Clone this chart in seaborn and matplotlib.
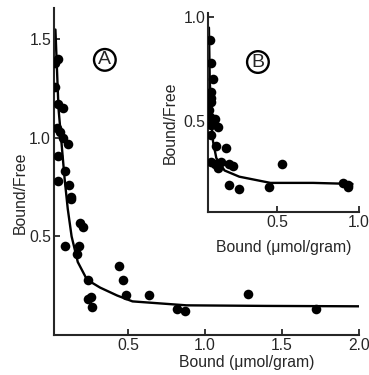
import numpy as np
import matplotlib
matplotlib.use("Agg")
import matplotlib.pyplot as plt
import seaborn as sns
import pandas as pd

# Panel A: scatchard data (Bound, Bound/Free)
a_bound = [0.03, 0.045, 0.03, 0.05, 0.08, 0.04, 0.06, 0.08, 0.11, 0.05, 0.09, 0.05,
           0.12, 0.13, 0.13, 0.19, 0.21, 0.09, 0.18, 0.17, 0.24, 0.24, 0.26, 0.27,
           0.44, 0.47, 0.49, 0.64, 0.82, 0.87, 1.28, 1.72]
a_ratio = [1.38, 1.40, 1.26, 1.17, 1.15, 1.05, 1.03, 1.00, 0.97, 0.91, 0.83, 0.78,
           0.76, 0.70, 0.69, 0.57, 0.55, 0.45, 0.45, 0.41, 0.28, 0.18, 0.19, 0.14,
           0.35, 0.28, 0.20, 0.20, 0.13, 0.12, 0.21, 0.13]
a_fit_x = [0.03, 0.05, 0.07, 0.09, 0.11, 0.135, 0.175, 0.235, 0.32, 0.43, 0.53, 0.88, 1.4, 2.0]
a_fit_y = [1.55, 1.15, 0.97, 0.79, 0.64, 0.50, 0.37, 0.28, 0.24, 0.20, 0.17, 0.15, 0.147, 0.145]

# Panel B (inset)
b_bound = [0.09, 0.10, 0.11, 0.10, 0.10, 0.10, 0.085, 0.09, 0.12, 0.10, 0.14, 0.10,
           0.13, 0.19, 0.10, 0.12, 0.14, 0.16, 0.21, 0.23, 0.21, 0.27, 0.45, 0.53,
           0.90, 0.93, 0.93]
b_ratio = [0.89, 0.78, 0.70, 0.64, 0.61, 0.59, 0.55, 0.52, 0.51, 0.48, 0.47, 0.43,
           0.38, 0.37, 0.30, 0.29, 0.27, 0.30, 0.29, 0.28, 0.19, 0.17, 0.18, 0.29,
           0.20, 0.19, 0.18]
b_fit_x = [0.085, 0.09, 0.10, 0.11, 0.13, 0.18, 0.27, 0.46, 0.72, 0.96]
b_fit_y = [0.95, 0.70, 0.50, 0.40, 0.32, 0.26, 0.23, 0.20, 0.20, 0.195]

sns.set_style("ticks")
plt.rcParams['font.family'] = ['Liberation Sans', 'DejaVu Sans']
plt.rcParams.update({
    'xtick.direction': 'in',
    'ytick.direction': 'in',
    'xtick.major.size': 4,
    'ytick.major.size': 4,
    'xtick.major.width': 1.3,
    'ytick.major.width': 1.3,
    'axes.linewidth': 1.5,
    'font.size': 11.3,
})
FS = 11.3

fig = plt.figure(figsize=(3.69, 3.75), dpi=100)
ax = fig.add_axes([0.146, 0.107, 0.827, 0.872])
axb = fig.add_axes([0.564, 0.435, 0.409, 0.530])

df_a = pd.DataFrame({'bound': a_bound, 'ratio': a_ratio})
df_af = pd.DataFrame({'bound': a_fit_x, 'ratio': a_fit_y})
df_b = pd.DataFrame({'bound': b_bound, 'ratio': b_ratio})
df_bf = pd.DataFrame({'bound': b_fit_x, 'ratio': b_fit_y})

for a, pts, fit in [(ax, df_a, df_af), (axb, df_b, df_bf)]:
    sns.scatterplot(data=pts, x='bound', y='ratio', ax=a, color='black', s=48,
                    edgecolor='black', linewidth=0, zorder=3)
    sns.lineplot(data=fit, x='bound', y='ratio', ax=a, color='black', lw=1.7,
                 sort=False, estimator=None)
    sns.despine(ax=a)
    a.set_xlabel('')
    a.set_ylabel('')
    a.patch.set_alpha(0)

ax.set_xlim(0.02, 2.0)
ax.set_ylim(0.0, 1.66)
ax.set_xticks([0.5, 1.0, 1.5, 2.0])
ax.set_yticks([0.5, 1.0, 1.5])
ax.tick_params(labelsize=FS, pad=2)
ax.text(0.633, -0.083, 'Bound (\u03bcmol/gram)', transform=ax.transAxes,
        ha='center', va='center', fontsize=FS)
ax.text(-0.11, 0.434, 'Bound/Free', transform=ax.transAxes, rotation=90,
        ha='center', va='center', fontsize=FS)
ax.text(0.167, 0.841, 'A', transform=ax.transAxes, ha='center', va='center',
        fontsize=14, bbox=dict(boxstyle='circle,pad=0.12', fc='white', ec='black', lw=1.7))

axb.set_xlim(0.08, 1.0)
axb.set_ylim(0.06, 1.02)
axb.set_xticks([0.5, 1.0])
axb.set_yticks([0.5, 1.0])
axb.tick_params(labelsize=FS, pad=2)
axb.text(0.50, -0.18, 'Bound (\u03bcmol/gram)', transform=axb.transAxes,
         ha='center', va='center', fontsize=FS)
axb.text(-0.25, 0.447, 'Bound/Free', transform=axb.transAxes, rotation=90,
         ha='center', va='center', fontsize=FS)
axb.text(0.33, 0.754, 'B', transform=axb.transAxes, ha='center', va='center',
         fontsize=14, bbox=dict(boxstyle='circle,pad=0.12', fc='white', ec='black', lw=1.7))

fig.savefig('out.png', dpi=100)
